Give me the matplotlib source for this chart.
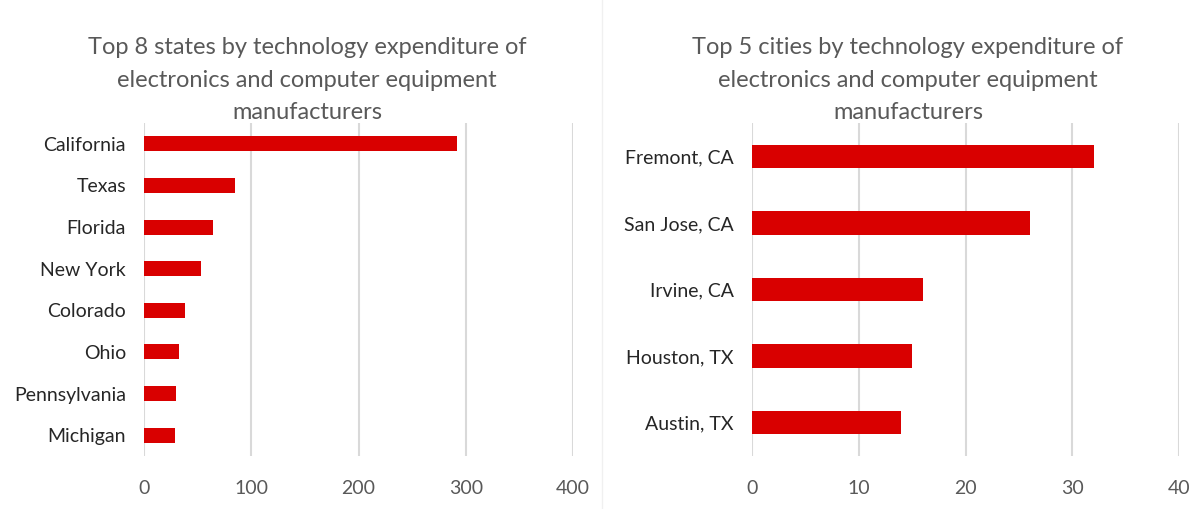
import matplotlib.pyplot as plt
from matplotlib.lines import Line2D

plt.rcParams['font.family'] = ['Lato', 'DejaVu Sans']

# data
states = ["California", "Texas", "Florida", "New York", "Colorado",
          "Ohio", "Pennsylvania", "Michigan"]
state_values = [292, 85, 64, 53, 38, 33, 30, 29]

cities = ["Fremont, CA", "San Jose, CA", "Irvine, CA", "Houston, TX", "Austin, TX"]
city_values = [32, 26, 16, 15, 14]

state_ticks = [0, 100, 200, 300, 400]
city_ticks = [0, 10, 20, 30, 40]

bar_color = "#d90000"
grid_color = "#d9d9d9"
title_color = "#595959"
label_color = "#262626"

W, H = 1193, 509
fig = plt.figure(figsize=(W / 100, H / 100), dpi=100)


def px_axes(x0, x1, y0, y1):
    return fig.add_axes([x0 / W, 1 - y1 / H, (x1 - x0) / W, (y1 - y0) / H])


def draw_panel(ax, names, values, ticks, bar_h):
    n = len(names)
    pos = list(range(n))
    ax.barh(pos, values, height=bar_h, color=bar_color, zorder=3)
    ax.set_ylim(n - 0.5, -0.5)
    ax.set_xlim(ticks[0], ticks[-1])
    ax.set_xticks(ticks)
    ax.set_yticks(pos)
    ax.set_yticklabels(names, fontsize=14, color=label_color)
    ax.tick_params(axis="x", labelsize=14, labelcolor=title_color, length=0, pad=17)
    ax.tick_params(axis="y", length=0, pad=13)
    ax.grid(axis="x", color=grid_color, linewidth=1.5, zorder=0)
    for s in ax.spines.values():
        s.set_visible(False)


# left panel
ax1 = px_axes(144, 573, 123, 456)
draw_panel(ax1, states, state_values, state_ticks, 0.36)
fig.text(307 / W, 1 - 37 / H,
         "Top 8 states by technology expenditure of\nelectronics and computer equipment\nmanufacturers",
         ha="center", va="top", fontsize=17, color=title_color, linespacing=1.68)

# right panel
ax2 = px_axes(752, 1179, 123, 456)
draw_panel(ax2, cities, city_values, city_ticks, 0.35)
fig.text(908 / W, 1 - 37 / H,
         "Top 5 cities by technology expenditure of\nelectronics and computer equipment\nmanufacturers",
         ha="center", va="top", fontsize=17, color=title_color, linespacing=1.68)

# faint divider between the two charts
fig.add_artist(Line2D([602 / W, 602 / W], [0.0, 1.0], color="#f0f0f0", linewidth=1))

fig.savefig("out.png", dpi=100)
